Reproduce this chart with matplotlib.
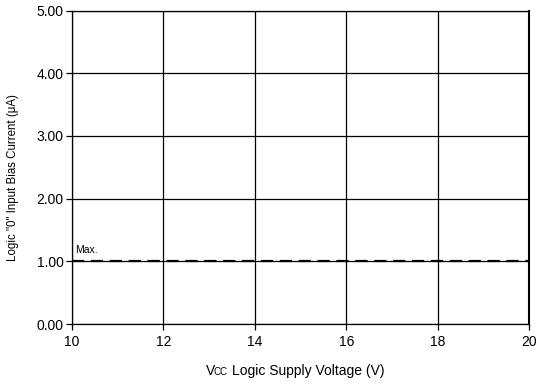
import matplotlib
matplotlib.use("Agg")
import matplotlib.pyplot as plt

plt.rcParams['font.family'] = ['Liberation Sans', 'DejaVu Sans']

# max spec line
vcc = [10, 20]
ibias_max = [1.0, 1.0]
xticks = [10, 12, 14, 16, 18, 20]
yticks = [0.0, 1.0, 2.0, 3.0, 4.0, 5.0]

fig = plt.figure(figsize=(5.36, 3.85), dpi=100)
ax = fig.add_axes([72/536, 1 - 324/385, 457/536, 313.5/385])

ax.plot(vcc, ibias_max, color='black', lw=1.6, dashes=(5.5, 3.0), zorder=3)
ax.text(10.07, 1.13, 'Max.', fontsize=7.5, ha='left', va='baseline')

ax.set_xlim(10, 20)
ax.set_ylim(0, 5)
ax.set_xticks(xticks)
ax.set_yticks(yticks)
ax.set_yticklabels(['%.2f' % v for v in yticks])
ax.grid(True, color='black', lw=0.9)
ax.tick_params(direction='out', length=4, width=0.9, labelsize=10, pad=2)
ax.tick_params(axis='x', pad=4)
for s in ax.spines.values():
    s.set_linewidth(0.9)
ax.spines['right'].set_linewidth(1.5)

ax.set_ylabel('Logic "0" Input Bias Current (\u03bcA)', fontsize=8.3)
ax.yaxis.set_label_coords(-0.117, 0.466)

# x label with small CC
y_lab = 1 - 375/385
fig.text(206/536, y_lab, 'V', fontsize=10, ha='left', va='baseline')
fig.text(214/536, y_lab, 'CC', fontsize=7, ha='left', va='baseline')
fig.text(232/536, y_lab, 'Logic Supply Voltage (V)', fontsize=10, ha='left', va='baseline')

fig.savefig('out.png', dpi=100)
